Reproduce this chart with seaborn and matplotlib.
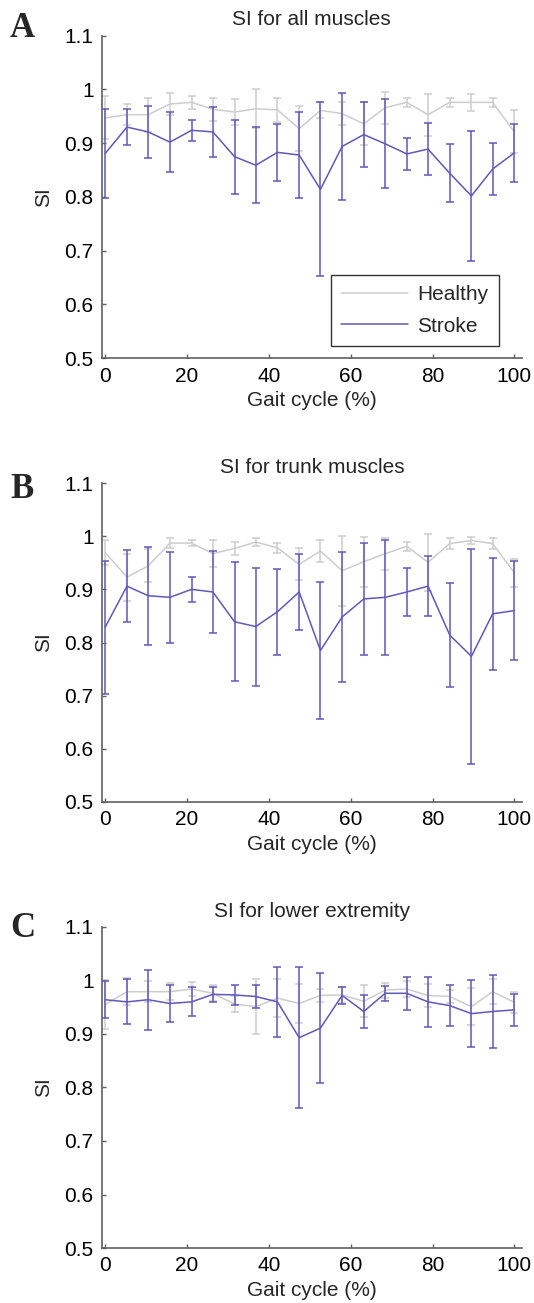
import numpy as np
import pandas as pd
import matplotlib
matplotlib.use("Agg")
import matplotlib.pyplot as plt
from matplotlib.ticker import FuncFormatter
from matplotlib.lines import Line2D
import seaborn as sns

sns.set_style("ticks")
plt.rcParams['font.family'] = ['Liberation Sans', 'DejaVu Sans']

# gait cycle positions (%)
gait = [0, 5.3, 10.5, 15.8, 21.1, 26.3, 31.6, 36.8, 42.1, 47.4,
        52.6, 57.9, 63.2, 68.4, 73.7, 78.9, 84.2, 89.5, 94.7, 100]

# A: all muscles
healthy_a = [0.947, 0.953, 0.953, 0.973, 0.976, 0.963, 0.958, 0.964, 0.962, 0.927,
             0.961, 0.955, 0.936, 0.966, 0.976, 0.953, 0.976, 0.976, 0.976, 0.921]
healthy_a_err = [0.040, 0.020, 0.032, 0.021, 0.012, 0.022, 0.024, 0.036, 0.023, 0.042,
                 0.015, 0.022, 0.040, 0.030, 0.009, 0.039, 0.009, 0.016, 0.009, 0.040]
stroke_a = [0.881, 0.930, 0.921, 0.902, 0.924, 0.921, 0.875, 0.859, 0.883, 0.878,
            0.814, 0.894, 0.916, 0.899, 0.880, 0.889, 0.844, 0.802, 0.852, 0.882]
stroke_a_err = [0.083, 0.033, 0.049, 0.056, 0.019, 0.046, 0.069, 0.071, 0.053, 0.080,
                0.162, 0.099, 0.060, 0.083, 0.029, 0.049, 0.054, 0.121, 0.048, 0.054]

# B: trunk muscles
healthy_b = [0.969, 0.923, 0.944, 0.987, 0.987, 0.967, 0.977, 0.989, 0.978, 0.947,
             0.972, 0.935, 0.952, 0.967, 0.981, 0.951, 0.986, 0.992, 0.986, 0.931]
healthy_b_err = [0.024, 0.044, 0.031, 0.009, 0.006, 0.025, 0.013, 0.008, 0.009, 0.030,
                 0.021, 0.066, 0.047, 0.030, 0.008, 0.054, 0.010, 0.006, 0.011, 0.027]
stroke_b = [0.829, 0.906, 0.888, 0.885, 0.900, 0.895, 0.839, 0.830, 0.858, 0.895,
            0.785, 0.848, 0.882, 0.885, 0.895, 0.906, 0.814, 0.774, 0.854, 0.860]
stroke_b_err = [0.125, 0.068, 0.092, 0.085, 0.023, 0.077, 0.112, 0.111, 0.081, 0.072,
                0.128, 0.123, 0.106, 0.108, 0.045, 0.057, 0.097, 0.202, 0.105, 0.093]

# C: lower extremity
healthy_c = [0.955, 0.979, 0.979, 0.979, 0.984, 0.976, 0.956, 0.951, 0.967, 0.957,
             0.972, 0.973, 0.961, 0.982, 0.984, 0.972, 0.970, 0.951, 0.979, 0.959]
healthy_c_err = [0.045, 0.025, 0.020, 0.016, 0.013, 0.015, 0.015, 0.051, 0.035, 0.037,
                 0.012, 0.015, 0.030, 0.014, 0.015, 0.022, 0.012, 0.034, 0.023, 0.020]
stroke_c = [0.964, 0.960, 0.964, 0.957, 0.960, 0.974, 0.973, 0.970, 0.960, 0.893,
            0.911, 0.972, 0.942, 0.976, 0.976, 0.960, 0.953, 0.938, 0.942, 0.945]
stroke_c_err = [0.035, 0.042, 0.056, 0.034, 0.027, 0.014, 0.018, 0.021, 0.065, 0.132,
                0.103, 0.016, 0.031, 0.014, 0.031, 0.047, 0.038, 0.063, 0.068, 0.030]

panels = [
    ('A', 'SI for all muscles', healthy_a, healthy_a_err, stroke_a, stroke_a_err),
    ('B', 'SI for trunk muscles', healthy_b, healthy_b_err, stroke_b, stroke_b_err),
    ('C', 'SI for lower extremity', healthy_c, healthy_c_err, stroke_c, stroke_c_err),
]

healthy_col = '#cdcdcd'
stroke_col = '#5f59b8'
axis_col = '#606060'

fig = plt.figure(figsize=(5.34, 13.03), dpi=100)
# axes boxes in figure fraction (left, bottom, width, height)
boxes = [(0.191, 0.7251, 0.786, 0.2475),
         (0.191, 0.3845, 0.786, 0.2448),
         (0.191, 0.0422, 0.786, 0.2464)]
letter_y = [0.9716, 0.6178, 0.2809]

for k, (letter, title, h, h_err, s, s_err) in enumerate(panels):
    ax = fig.add_axes(boxes[k])
    df = pd.DataFrame({'gait': gait * 2,
                       'SI': h + s,
                       'group': ['Healthy'] * len(gait) + ['Stroke'] * len(gait)})
    # error bars first, mean lines on top
    ax.errorbar(gait, h, yerr=h_err, fmt='none', ecolor=healthy_col,
                elinewidth=1.1, capsize=3, capthick=1.1, zorder=1)
    ax.errorbar(gait, s, yerr=s_err, fmt='none', ecolor=stroke_col,
                elinewidth=1.1, capsize=3, capthick=1.1, zorder=3)
    sns.lineplot(data=df, x='gait', y='SI', hue='group',
                 palette={'Healthy': healthy_col, 'Stroke': stroke_col},
                 linewidth=1.1, legend=False, ax=ax, sort=False)

    ax.set_xlim(-0.8, 101.8)
    ax.set_ylim(0.5, 1.1)
    ax.set_xticks([0, 20, 40, 60, 80, 100])
    ax.set_yticks([0.5, 0.6, 0.7, 0.8, 0.9, 1.0, 1.1])
    ax.yaxis.set_major_formatter(FuncFormatter(lambda v, p: '%g' % round(v, 2)))
    ax.tick_params(direction='in', length=3, width=1, colors=axis_col,
                   labelcolor='black', labelsize=15, pad=6)
    sns.despine(ax=ax)
    for sp in ['left', 'bottom']:
        ax.spines[sp].set_color(axis_col)
        ax.spines[sp].set_linewidth(1.2)
    ax.set_xlabel('Gait cycle (%)', fontsize=15, labelpad=4)
    ax.set_ylabel('SI', fontsize=15, labelpad=8)
    ax.set_title(title, fontsize=15, pad=7.5)
    fig.text(0.0187, letter_y[k], letter, family='Liberation Serif',
             fontweight='bold', fontsize=25, va='baseline', ha='left')

    if k == 0:
        handles = [Line2D([], [], color=healthy_col, lw=1.1),
                   Line2D([], [], color=stroke_col, lw=1.1)]
        leg = ax.legend(handles, ['Healthy', 'Stroke'], loc='lower right',
                        bbox_to_anchor=(0.946, 0.038), borderaxespad=0,
                        fontsize=15, frameon=True, fancybox=False,
                        handlelength=3.2, handletextpad=0.45,
                        labelspacing=0.6, borderpad=0.5)
        leg.get_frame().set_edgecolor('black')
        leg.get_frame().set_linewidth(1.0)

fig.savefig('out.png', dpi=100)
